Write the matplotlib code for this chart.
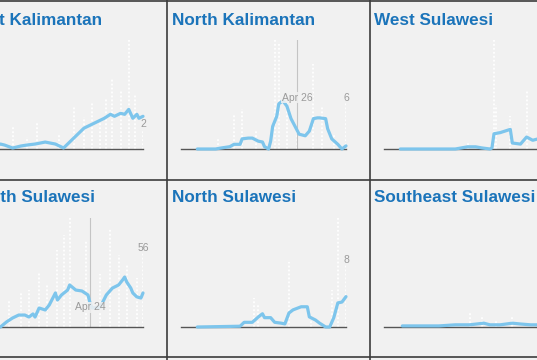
import matplotlib
matplotlib.use("Agg")
import matplotlib.pyplot as plt
from matplotlib.lines import Line2D
from matplotlib.transforms import blended_transform_factory

# ---------------- data (day index 0 = Feb 29, 2020; last day = 81) ----------------
TITLES = ["West Kalimantan", "North Kalimantan", "West Sulawesi",
          "South Sulawesi", "North Sulawesi", "Southeast Sulawesi"]
Y_MAX = [11, 14, 10, 82, 14, 20]
LAST_LABEL = ["2", "6", None, "56", "8", None]

# 7-day average lines
WK_LINE_DAY = [6, 8, 11, 13, 17, 21, 24, 28, 33, 38, 42, 44, 48, 52, 57, 62, 65, 67, 70, 72, 74, 76, 78, 79, 81]
WK_LINE_VAL = [0, 0.3, 0.5, 0.4, 0.1, 0.3, 0.4, 0.5, 0.7, 0.5, 0.1, 0.5, 1.3, 2.1, 2.6, 3.1, 3.5, 3.3, 3.6, 3.5, 4.0, 3.1, 3.5, 3.1, 3.3]
NK_LINE_DAY = [8, 17, 19, 24, 26, 29, 30, 33, 35, 38, 40, 41, 43, 44, 45, 47, 48, 50, 52, 54, 56, 58, 61, 63, 65, 67, 68, 71, 72, 74, 77, 79, 81]
NK_LINE_VAL = [0, 0, 0.1, 0.3, 0.6, 0.6, 1.3, 1.4, 1.4, 1.0, 0.9, 0.3, 0, 1.0, 2.9, 4.2, 5.8, 6.2, 5.5, 3.9, 2.9, 1.9, 1.7, 2.3, 3.9, 4.0, 4.0, 3.9, 2.6, 1.3, 0.6, 0, 0.4]
WS_LINE_DAY = [8, 35, 38, 41, 45, 48, 52, 53, 54, 57, 62, 63, 67, 70, 73, 75, 79, 81]
WS_LINE_VAL = [0, 0, 0.1, 0.2, 0.2, 0.1, 0, 0.1, 1.4, 1.5, 1.8, 0.55, 0.45, 1.1, 0.8, 0.9, 1.0, 0.9]
SS_LINE_DAY = [4, 11, 14, 17, 20, 23, 25, 27, 28, 30, 33, 35, 38, 39, 41, 44, 45, 48, 51, 54, 55, 56, 60, 63, 66, 69, 71, 72, 73, 75, 76, 78, 80, 81]
SS_LINE_VAL = [0, 0, 3.8, 6.8, 9.0, 9.0, 7.5, 9.8, 7.5, 14.3, 12.8, 16.6, 25.6, 20.3, 24.1, 27.8, 31.6, 27.8, 27.1, 24.1, 18.1, 14.3, 15.0, 24.1, 29.3, 31.6, 35.4, 37.6, 33.9, 29.3, 25.6, 22.6, 21.8, 25.6]
NS_LINE_DAY = [8, 29, 31, 35, 38, 40, 41, 44, 46, 49, 51, 53, 55, 57, 59, 62, 63, 66, 68, 71, 73, 75, 77, 79, 81]
NS_LINE_VAL = [0, 0.1, 0.6, 0.6, 1.3, 1.7, 1.2, 1.2, 0.6, 0.5, 0.4, 1.8, 2.2, 2.4, 2.6, 2.6, 1.3, 0.9, 0.5, 0, 0, 1.2, 3.1, 3.2, 3.9]
SES_LINE_DAY = [9, 27, 35, 42, 49, 52, 57, 63, 67, 72, 75, 81]
SES_LINE_VAL = [0.2, 0.2, 0.4, 0.4, 0.7, 0.4, 0.4, 0.7, 0.55, 0.4, 0.4, 0.4]

# daily counts (faint dotted bars)
WK_BAR_DAY = [17, 24, 29, 40, 47, 52, 56, 60, 63, 66, 70, 74, 77, 81]
WK_BAR_VAL = [2.3, 1.2, 2.6, 1.5, 4.3, 3.2, 4.6, 3.1, 5.0, 7.2, 6.0, 11, 5.5, 2]
NK_BAR_DAY = [18, 26, 30, 37, 46, 48, 52, 57, 65, 69, 75, 81]
NK_BAR_VAL = [1.3, 4.5, 5.1, 2.3, 14, 13.5, 6, 3, 10.9, 5.5, 2, 6]
WS_BAR_DAY = [41, 54, 55, 62, 70]
WS_BAR_VAL = [0.7, 10, 4, 3, 5.3]
SS_BAR_DAY = [15, 21, 25, 30, 34, 39, 42, 45, 53, 60, 65, 69, 73, 78, 81]
SS_BAR_VAL = [20, 26, 28, 41, 32, 58, 69, 82, 65, 40, 74, 54, 47, 37, 56]
NS_BAR_DAY = [36, 38, 53, 64, 74, 77, 81]
NS_BAR_VAL = [3.7, 3.0, 8.3, 1.5, 4.8, 14, 8]
SES_BAR_DAY = [42, 48, 55, 63]
SES_BAR_VAL = [2.7, 2.2, 1.5, 1.8]

# reference date markers: (day index, label, label height as axes fraction)
MARKERS = [None, (57, "Apr 26", 0.47), None, (55, "Apr 24", 0.18), None, None]

LINES = [(WK_LINE_DAY, WK_LINE_VAL), (NK_LINE_DAY, NK_LINE_VAL), (WS_LINE_DAY, WS_LINE_VAL),
         (SS_LINE_DAY, SS_LINE_VAL), (NS_LINE_DAY, NS_LINE_VAL), (SES_LINE_DAY, SES_LINE_VAL)]
BARS = [(WK_BAR_DAY, WK_BAR_VAL), (NK_BAR_DAY, NK_BAR_VAL), (WS_BAR_DAY, WS_BAR_VAL),
        (SS_BAR_DAY, SS_BAR_VAL), (NS_BAR_DAY, NS_BAR_VAL), (SES_BAR_DAY, SES_BAR_VAL)]

# ---------------- layout / style ----------------
W, H = 537, 360
BG = "#f1f1f1"
TITLE_C = "#1b74ba"
LINE_C = "#7dc5ec"
GREY = "#9a9a9a"
BORDER = "#3c3c3c"
N_DAYS = 81

COL_LEFT = [-37, 166, 369]
ROW_BASE = [149, 327]
ROW_TITLE = [25, 202]
TITLE_X = [-36.5, 172, 374, -32, 172, 374]
PLOT_H = 109
PLOT_W = 165

fig = plt.figure(figsize=(W / 100, H / 100), dpi=100, facecolor=BG)

for k in range(6):
    r, c = divmod(k, 3)
    x0 = COL_LEFT[c] + 15
    ax = fig.add_axes([x0 / W, 1 - ROW_BASE[r] / H, PLOT_W / W, PLOT_H / H])
    ax.set_xlim(0, N_DAYS)
    ax.set_ylim(0, Y_MAX[k])
    ax.axis("off")

    bd, bv = BARS[k]
    ax.vlines(bd, 0, bv, colors="white", linestyles=(0, (1, 1.2)), linewidth=1.3, zorder=1)

    m = MARKERS[k]
    if m is not None:
        ax.axvline(m[0], color="#c4c4c4", lw=0.8, zorder=1.5)

    ax.axhline(0, color="#555555", lw=1.0, zorder=2, clip_on=False)

    ld, lv = LINES[k]
    ax.plot(ld, lv, color=LINE_C, lw=2.3, solid_joinstyle="round",
            solid_capstyle="round", zorder=3, clip_on=False)

    if m is not None:
        tr = blended_transform_factory(ax.transData, ax.transAxes)
        ax.text(m[0], m[2], m[1], transform=tr, ha="center", va="center",
                fontsize=7.5, color=GREY, family="Liberation Sans", zorder=4,
                bbox=dict(fc=BG, ec="none", pad=0.3, alpha=0.85))

    if LAST_LABEL[k] is not None:
        ax.annotate(LAST_LABEL[k], (N_DAYS, float(LAST_LABEL[k])), xytext=(0, 3.4),
                    textcoords="offset points", ha="center", va="center",
                    fontsize=7.5, color=GREY, family="Liberation Sans",
                    annotation_clip=False, zorder=4)

    fig.text(TITLE_X[k] / W, 1 - ROW_TITLE[r] / H, TITLES[k], ha="left",
             va="baseline", fontsize=12.3, fontweight="bold", color=TITLE_C,
             family="Liberation Sans")

# cell borders
for x in [166.5, 369.5]:
    fig.add_artist(Line2D([x / W, x / W], [0, 1], transform=fig.transFigure,
                          color=BORDER, lw=1.2))
for y in [1, 179.5, 357]:
    fig.add_artist(Line2D([0, 1], [1 - y / H, 1 - y / H], transform=fig.transFigure,
                          color=BORDER, lw=1.2))

fig.savefig("out.png", dpi=100, facecolor=BG)
